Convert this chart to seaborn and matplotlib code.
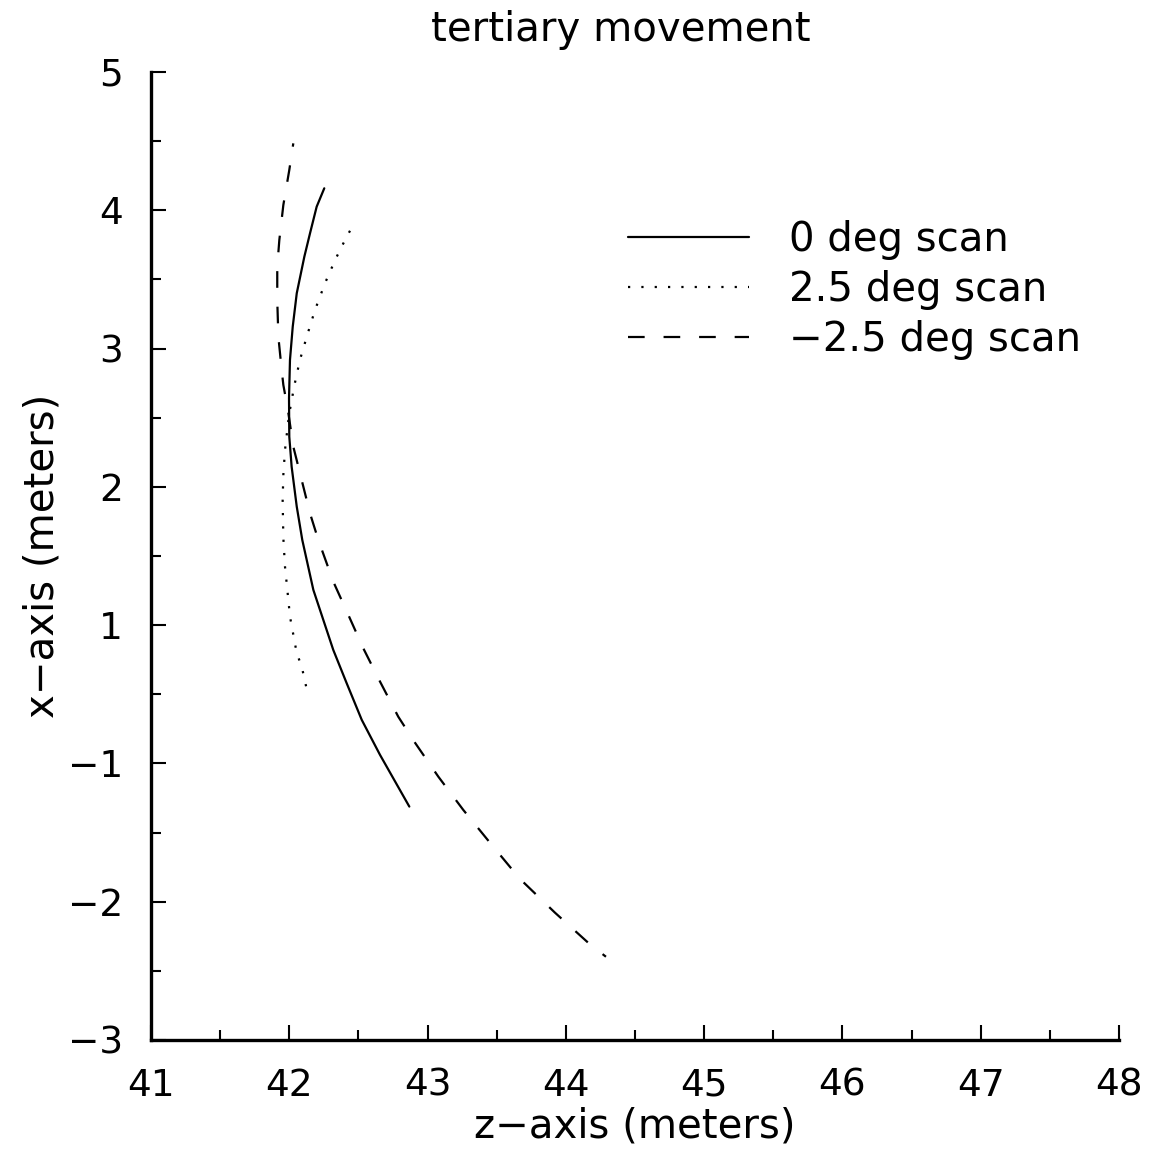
import matplotlib
matplotlib.use("Agg")
import matplotlib.pyplot as plt
from matplotlib.ticker import MultipleLocator
import numpy as np
import pandas as pd
import seaborn as sns

# Scan paths of the tertiary mirror: z position (m) and x position (m, axis units)
z_0deg = [42.253, 42.198, 42.150, 42.109, 42.054, 42.025, 42.005, 41.998, 42.000,
          42.017, 42.054, 42.094, 42.174, 42.318, 42.415, 42.524, 42.656, 42.868]
x_0deg = [4.159, 4.026, 3.834, 3.665, 3.400, 3.159, 2.918, 2.641, 2.363,
          2.146, 1.857, 1.616, 1.255, 0.821, 0.580, 0.315, 0.062, -0.312]

z_p25 = [42.439, 42.391, 42.343, 42.302, 42.258, 42.222, 42.186, 42.130, 42.077,
         42.036, 41.998, 41.969, 41.957, 41.952, 41.957, 41.969, 41.986, 42.005,
         42.054, 42.090, 42.130]
x_p25 = [3.852, 3.761, 3.664, 3.573, 3.472, 3.375, 3.279, 3.098, 2.918,
         2.730, 2.520, 2.267, 2.086, 1.905, 1.631, 1.423, 1.255, 1.062,
         0.797, 0.700, 0.519]

z_m25 = [42.029, 42.000, 41.957, 41.928, 41.913, 41.913, 41.921, 41.945, 41.957,
         41.990, 42.029, 42.090, 42.150, 42.210, 42.318, 42.427, 42.535, 42.656,
         42.788, 42.909, 43.078, 43.258, 43.464, 43.668, 43.921, 44.174, 44.290]
x_m25 = [4.484, 4.291, 4.038, 3.785, 3.592, 3.351, 3.086, 2.845, 2.737,
         2.556, 2.291, 2.048, 1.808, 1.616, 1.315, 1.074, 0.833, 0.592,
         0.338, 0.150, -0.096, -0.336, -0.589, -0.835, -1.079, -1.308, -1.398]

scan_labels = ["0 deg scan", "2.5 deg scan", "\u22122.5 deg scan"]

x_ticks = [41, 42, 43, 44, 45, 46, 47, 48]
y_tick_pos = [5, 4, 3, 2, 1, 0, -1, -2]
y_tick_labels = ["5", "4", "3", "2", "1", "\u22121", "\u22122", "\u22123"]

df = pd.concat([
    pd.DataFrame({"z": z_0deg, "x": x_0deg, "scan": scan_labels[0]}),
    pd.DataFrame({"z": z_p25, "x": x_p25, "scan": scan_labels[1]}),
    pd.DataFrame({"z": z_m25, "x": x_m25, "scan": scan_labels[2]}),
], ignore_index=True)

sns.set_theme(style="white")
plt.rcParams["font.family"] = ["DejaVu Sans"]
plt.rcParams["text.color"] = "black"
plt.rcParams["axes.labelcolor"] = "black"
plt.rcParams["xtick.color"] = "black"
plt.rcParams["ytick.color"] = "black"

fig = plt.figure(figsize=(11.57, 11.5), dpi=100)
ax = fig.add_axes([151 / 1157, 1 - 1040 / 1150, (1119 - 151) / 1157, (1040 - 72) / 1150])

dash_styles = {scan_labels[0]: "", scan_labels[1]: (1.0, 5.0), scan_labels[2]: (7.5, 8.5)}
sns.lineplot(data=df, x="z", y="x", style="scan", style_order=scan_labels,
             dashes=dash_styles, sort=False, estimator=None, color="black",
             linewidth=1.6, ax=ax, legend=True)

# shift the dash phase of the -2.5 deg path so both ends land on a dash
for line in ax.lines:
    xd = np.asarray(line.get_xdata())
    if len(xd) == len(z_m25) and np.allclose(xd, z_m25):
        line.set_linestyle((6.0, (7.5, 8.5)))

ax.set_xlim(41, 48)
ax.set_ylim(-2, 5)
ax.set_xticks(x_ticks)
ax.set_xticklabels([str(t) for t in x_ticks])
ax.set_yticks(y_tick_pos)
ax.set_yticklabels(y_tick_labels)
ax.xaxis.set_minor_locator(MultipleLocator(0.5))
ax.yaxis.set_minor_locator(MultipleLocator(0.5))

for side in ["top", "right"]:
    ax.spines[side].set_visible(False)
for side in ["left", "bottom"]:
    ax.spines[side].set_linewidth(2.4)
    ax.spines[side].set_color("black")

ax.tick_params(which="major", direction="in", length=11, width=1.5, colors="black",
               labelcolor="black", labelsize=27, bottom=True, left=True)
ax.tick_params(which="minor", direction="in", length=7, width=1.5, colors="black",
               bottom=True, left=True)
ax.tick_params(axis="x", which="major", pad=20)
ax.tick_params(axis="y", which="major", pad=20)

ax.set_xlabel("z\u2212axis (meters)", fontsize=29, labelpad=2, color="black")
ax.set_ylabel("x\u2212axis (meters)", fontsize=29, labelpad=4, color="black")
ax.set_title("tertiary movement", fontsize=29, x=(621 - 151) / 968, pad=22, color="black")

handles, labels = ax.get_legend_handles_labels()
leg = ax.legend(handles, labels, loc="upper left",
                bbox_to_anchor=(628 / 1157, 1 - 220 / 1150), bbox_transform=fig.transFigure,
                frameon=False, fontsize=29, handlelength=3.0, handletextpad=1.0,
                labelspacing=0.25, borderpad=0, borderaxespad=0)
for txt in leg.get_texts():
    txt.set_color("black")

fig.savefig("out.png", dpi=100, facecolor="white")
